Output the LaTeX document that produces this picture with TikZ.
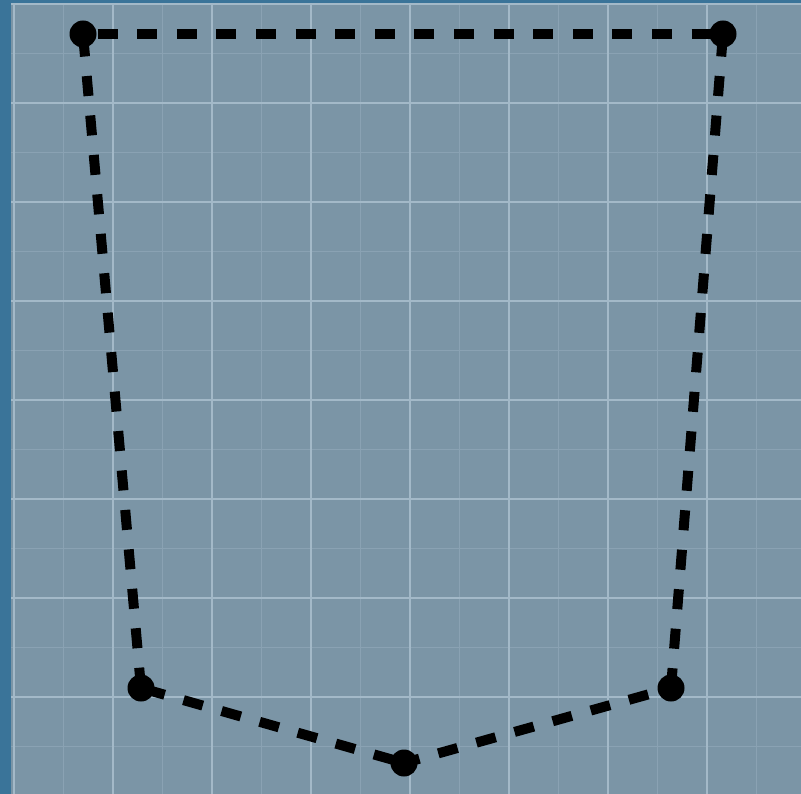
\documentclass[tikz,border=0pt]{standalone}
\definecolor{outerblue}{HTML}{3A7499}
\definecolor{panelgrey}{HTML}{7B95A6}
\definecolor{gmajor}{HTML}{A3B9C8}
\definecolor{gminor}{HTML}{8AA2B3}
\begin{document}
\begin{tikzpicture}[x=1pt,y=-1pt,
  dot/.style={circle,fill=black,minimum size=27pt,inner sep=0pt},
  edge/.style={line width=10pt,dash pattern=on 20pt off 19.6pt},
  minorline/.style={gminor,line width=1pt},
  majorline/.style={gmajor,line width=1.3pt}]
\useasboundingbox (0,0) rectangle (801,794);
\fill[outerblue] (0,0) rectangle (801,794);
\fill[panelgrey] (11,3) rectangle (801,794);
\begin{scope}
\clip (11,3) rectangle (801,794);
\foreach \i in {0,...,8} {
  \draw[minorline] ({63.5+99*\i},3) -- ({63.5+99*\i},794);
  \draw[minorline] (11,{53.5+99*\i}) -- (801,{53.5+99*\i});
}
\foreach \i in {0,...,8} {
  \draw[majorline] ({14+99*\i},3) -- ({14+99*\i},794);
  \draw[majorline] (11,{4+99*\i}) -- (801,{4+99*\i});
}
\end{scope}
\coordinate (A) at (83,34);
\coordinate (B) at (723,34);
\coordinate (C) at (671,688);
\coordinate (D) at (404,763);
\coordinate (E) at (141,688);
\draw[edge,dash phase=25pt] (A) -- (B);
\draw[edge,dash phase=37pt] (A) -- (E);
\draw[edge,dash phase=37pt] (B) -- (C);
\draw[edge,dash phase=35pt] (E) -- (D);
\draw[edge,dash phase=4pt] (D) -- (C);
\node[dot] (nA) at (A) {};
\node[dot] (nB) at (B) {};
\node[dot] (nC) at (C) {};
\node[dot] (nD) at (D) {};
\node[dot] (nE) at (E) {};
\end{tikzpicture}
\end{document}
